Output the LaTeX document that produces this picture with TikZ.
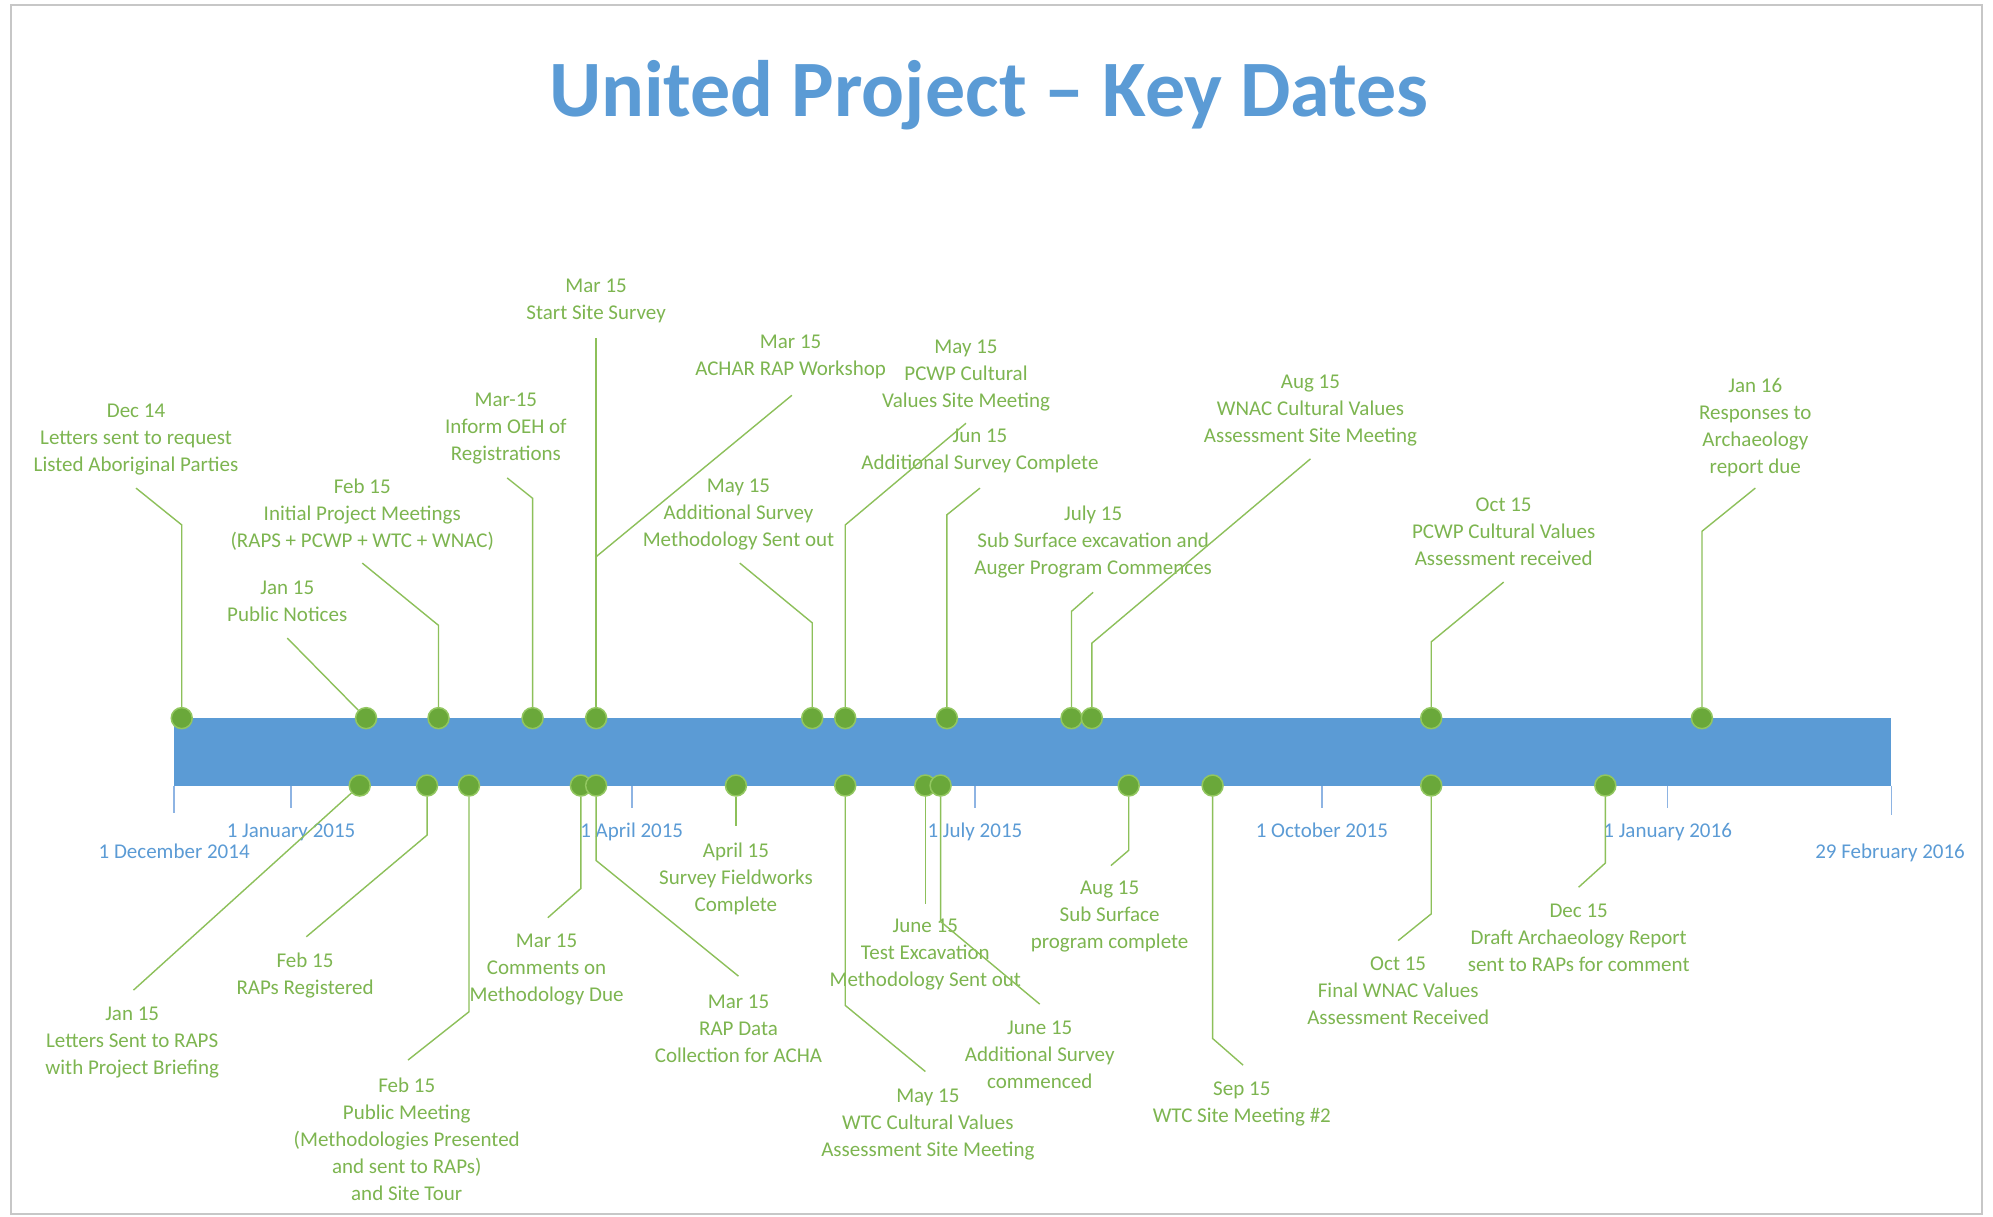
\documentclass[tikz,border=0pt]{standalone}
\usepackage{fontspec}
\setmainfont{Carlito}
\definecolor{barblue}{HTML}{5B9BD5}
\definecolor{tickblue}{HTML}{8EB4E3}
\definecolor{txtgreen}{HTML}{7DB550}
\definecolor{linegreen}{HTML}{8DC05A}
\definecolor{dotgreen}{HTML}{6AA83A}
\definecolor{dotring}{HTML}{92C760}
\tikzset{
  dotmark/.style={circle, fill=dotgreen, draw=dotring, line width=1.5pt, minimum size=21pt, inner sep=0pt},
  conn/.style={draw=linegreen, line width=1.4pt},
  lbl/.style={align=center, anchor=north, inner sep=0pt, text=txtgreen, font=\fontsize{21pt}{27pt}\selectfont},
  datelbl/.style={anchor=base, inner sep=0pt, text=barblue, font=\fontsize{21pt}{27pt}\selectfont},
  tickline/.style={draw=tickblue, line width=1.6pt},
  titlestyle/.style={anchor=base, inner sep=0pt, text=barblue, font=\fontsize{80pt}{90pt}\selectfont\bfseries}
}
\begin{document}
\begin{tikzpicture}[x=1.27105pt,y=-1.27105pt]
\useasboundingbox (0,0) rectangle (1568,957);
\fill[white] (0,0) rectangle (1568,957);
% page frame
\draw[black!22, line width=2pt] (9,4) rectangle (1559,955);

% title
\node[titlestyle] (title) at (778,92) {United Project – Key Dates};

% bar
\fill[barblue] (137,565) rectangle (1488,618);

% ticks
\coordinate (k0a) at (137,618); \coordinate (k0b) at (137,640);
\coordinate (k1a) at (229,618); \coordinate (k1b) at (229,636);
\coordinate (k2a) at (497,618); \coordinate (k2b) at (497,636);
\coordinate (k3a) at (767,618); \coordinate (k3b) at (767,636);
\coordinate (k4a) at (1040,618); \coordinate (k4b) at (1040,636);
\coordinate (k5a) at (1312,618); \coordinate (k5b) at (1312,636);
\coordinate (k6a) at (1488,618); \coordinate (k6b) at (1488,641);
\foreach \i in {0,...,6} { \draw[tickline] (k\i a) -- (k\i b); }

% date labels
\node[datelbl] (d0) at (137,675.6) {1 December 2014};
\node[datelbl] (d1) at (229,658.6) {1 January 2015};
\node[datelbl] (d2) at (497,658.6) {1 April 2015};
\node[datelbl] (d3) at (767,658.6) {1 July 2015};
\node[datelbl] (d4) at (1040,658.6) {1 October 2015};
\node[datelbl] (d5) at (1312,658.6) {1 January 2016};
\node[datelbl] (d6) at (1487,675.6) {29 February 2016};

% ---------- upper dots ----------
\node[dotmark] (du1) at (143,565) {};
\node[dotmark] (du2) at (288,565) {};
\node[dotmark] (du3) at (345,565) {};
\node[dotmark] (du4) at (419,565) {};
\node[dotmark] (du5) at (469,565) {};
\node[dotmark] (du7) at (639,565) {};
\node[dotmark] (du8) at (665,565) {};
\node[dotmark] (du9) at (745,565) {};
\node[dotmark] (du10) at (843,565) {};
\node[dotmark] (du11) at (859,565) {};
\node[dotmark] (du12) at (1126,565) {};
\node[dotmark] (du13) at (1339,565) {};

% ---------- lower dots ----------
\node[dotmark] (dl1) at (283,618) {};
\node[dotmark] (dl2) at (336,618) {};
\node[dotmark] (dl3) at (369,618) {};
\node[dotmark] (dl4) at (457,618) {};
\node[dotmark] (dl5) at (469,618) {};
\node[dotmark] (dl6) at (579,618) {};
\node[dotmark] (dl7) at (665,618) {};
\node[dotmark] (dl8) at (728,618) {};
\node[dotmark] (dl9) at (740,618) {};
\node[dotmark] (dl10) at (888,618) {};
\node[dotmark] (dl11) at (954,618) {};
\node[dotmark] (dl12) at (1126,618) {};
\node[dotmark] (dl13) at (1263,618) {};

% ---------- upper labels ----------
\node[lbl] (tu1) at (107,317.7) {Dec 14\\Letters sent to request\\Listed Aboriginal Parties};
\node[lbl] (tu2) at (226,456.7) {Jan 15\\Public Notices};
\node[lbl] (tu3) at (285,376.7) {Feb 15\\Initial Project Meetings\\(RAPS + PCWP + WTC + WNAC)};
\node[lbl] (tu4) at (398,308.7) {Mar-15\\Inform OEH of\\Registrations};
\node[lbl] (tu5) at (469,219.7) {Mar 15\\Start Site Survey};
\node[lbl] (tu6) at (622,263.7) {Mar 15\\ACHAR RAP Workshop};
\node[lbl] (tu7) at (581,376.7) {May 15\\Additional Survey\\Methodology Sent out};
\node[lbl] (tu8) at (760,267.7) {May 15\\PCWP Cultural\\Values Site Meeting};
\node[lbl] (tu9) at (771,337.7) {Jun 15\\Additional Survey Complete};
\node[lbl] (tu10) at (860,397.7) {July 15\\Sub Surface excavation and\\Auger Program Commences};
\node[lbl] (tu11) at (1031,294.7) {Aug 15\\WNAC Cultural Values\\Assessment Site Meeting};
\node[lbl] (tu12) at (1183,391.7) {Oct 15\\PCWP Cultural Values\\Assessment received};
\node[lbl] (tu13) at (1381,297.7) {Jan 16\\Responses to\\Archaeology\\report due};

% ---------- lower labels ----------
\node[lbl] (tl1) at (104,791.7) {Jan 15\\Letters Sent to RAPS\\with Project Briefing};
\node[lbl] (tl2) at (240,749.7) {Feb 15\\RAPs Registered};
\node[lbl] (tl3) at (320,847.7) {Feb 15\\Public Meeting\\(Methodologies Presented\\and sent to RAPs)\\and Site Tour};
\node[lbl] (tl4) at (430,734.7) {Mar 15\\Comments on\\Methodology Due};
\node[lbl] (tl5) at (581,782.7) {Mar 15\\RAP Data\\Collection for ACHA};
\node[lbl] (tl6) at (579,662.7) {April 15\\Survey Fieldworks\\Complete};
\node[lbl] (tl7) at (730,856.7) {May 15\\WTC Cultural Values\\Assessment Site Meeting};
\node[lbl] (tl8) at (728,722.7) {June 15\\Test Excavation\\Methodology Sent out};
\node[lbl] (tl9) at (818,802.7) {June 15\\Additional Survey\\commenced};
\node[lbl] (tl10) at (873,692.7) {Aug 15\\Sub Surface\\program complete};
\node[lbl] (tl11) at (977,850.7) {Sep 15\\WTC Site Meeting \#2};
\node[lbl] (tl12) at (1100,752.7) {Oct 15\\Final WNAC Values\\Assessment Received};
\node[lbl] (tl13) at (1242,710.7) {Dec 15\\Draft Archaeology Report\\sent to RAPs for comment};

% ---------- connector points (upper) ----------
\coordinate (eu1) at (143,413);  \coordinate (fu1) at (107,384);
\coordinate (fu2) at (226,502);
\coordinate (eu3) at (345,492);  \coordinate (fu3) at (285,443);
\coordinate (eu4) at (419,392);  \coordinate (fu4) at (399,376);
\coordinate (fu5) at (469,266);
\coordinate (eu6) at (469,438);  \coordinate (fu6) at (623,311);
\coordinate (eu7) at (639,490);  \coordinate (fu7) at (582,443);
\coordinate (eu8) at (665,413);  \coordinate (fu8) at (760,333);
\coordinate (eu9) at (745,405);  \coordinate (fu9) at (771,384);
\coordinate (eu10) at (843,481); \coordinate (fu10) at (860,466);
\coordinate (eu11) at (859,506); \coordinate (fu11) at (1031,361);
\coordinate (eu12) at (1126,505); \coordinate (fu12) at (1183,458);
\coordinate (eu13) at (1339,418); \coordinate (fu13) at (1381,384);

% ---------- connector points (lower) ----------
\coordinate (fl1) at (105,779);
\coordinate (el2) at (336,657);  \coordinate (fl2) at (241,737);
\coordinate (el3) at (369,796);  \coordinate (fl3) at (321,834);
\coordinate (el4) at (457,699);  \coordinate (fl4) at (431,722);
\coordinate (el5) at (469,677);  \coordinate (fl5) at (581,768);
\coordinate (fl6) at (579,650);
\coordinate (el7) at (665,791);  \coordinate (fl7) at (728,843);
\coordinate (fl8) at (728,711);
\coordinate (el9) at (740,725);  \coordinate (fl9) at (818,790);
\coordinate (el10) at (888,669); \coordinate (fl10) at (874,681);
\coordinate (el11) at (954,817); \coordinate (fl11) at (978,838);
\coordinate (el12) at (1126,719); \coordinate (fl12) at (1100,740);
\coordinate (el13) at (1263,679); \coordinate (fl13) at (1242,698);

% ---------- connectors ----------
\draw[conn] (du1) -- (eu1) -- (fu1);
\draw[conn] (du2) -- (fu2);
\draw[conn] (du3) -- (eu3) -- (fu3);
\draw[conn] (du4) -- (eu4) -- (fu4);
\draw[conn] (du5) -- (fu5);
\draw[conn] (du5) -- (eu6) -- (fu6);
\draw[conn] (du7) -- (eu7) -- (fu7);
\draw[conn] (du8) -- (eu8) -- (fu8);
\draw[conn] (du9) -- (eu9) -- (fu9);
\draw[conn] (du10) -- (eu10) -- (fu10);
\draw[conn] (du11) -- (eu11) -- (fu11);
\draw[conn] (du12) -- (eu12) -- (fu12);
\draw[conn] (du13) -- (eu13) -- (fu13);

\draw[conn] (dl1) -- (fl1);
\draw[conn] (dl2) -- (el2) -- (fl2);
\draw[conn] (dl3) -- (el3) -- (fl3);
\draw[conn] (dl4) -- (el4) -- (fl4);
\draw[conn] (dl5) -- (el5) -- (fl5);
\draw[conn] (dl6) -- (fl6);
\draw[conn] (dl7) -- (el7) -- (fl7);
\draw[conn] (dl8) -- (fl8);
\draw[conn] (dl9) -- (el9) -- (fl9);
\draw[conn] (dl10) -- (el10) -- (fl10);
\draw[conn] (dl11) -- (el11) -- (fl11);
\draw[conn] (dl12) -- (el12) -- (fl12);
\draw[conn] (dl13) -- (el13) -- (fl13);
\end{tikzpicture}
\end{document}
